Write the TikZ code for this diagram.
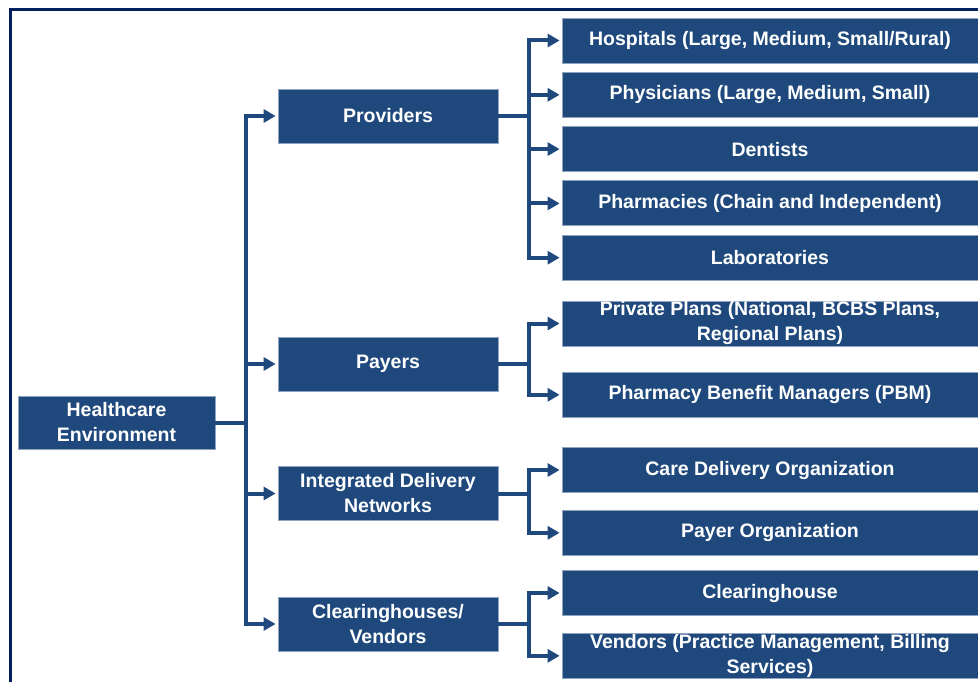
\documentclass[tikz,border=0pt]{standalone}
\usepackage{fontspec}
\setmainfont{Liberation Sans}
\usetikzlibrary{arrows.meta,positioning}
\definecolor{boxblue}{RGB}{31,73,125}
\definecolor{framenavy}{RGB}{0,32,96}

\begin{document}
\begin{tikzpicture}[
    x=1pt, y=-1pt,
    font=\bfseries\fontsize{19.5}{25}\selectfont,
    node distance=8.5pt,
    box/.style={
        fill=boxblue,
        draw=boxblue!50!white,
        line width=0.8pt,
        text=white,
        align=center,
        inner sep=0pt
    },
    rootbox/.style={box, minimum width=197pt, minimum height=53pt},
    groupbox/.style={box, minimum width=220pt, minimum height=54pt},
    leafbox/.style={box, minimum width=416pt, minimum height=45pt},
    link/.style={draw=boxblue, line width=4pt},
    arr/.style={link, -{Triangle[length=12pt,width=13pt]}, shorten >=2pt}
]
    \useasboundingbox (0,0) rectangle (978,682);
    %% Rahmen
    \draw[framenavy, line width=3.5pt] (10.5,682) -- (10.5,9.5) -- (978,9.5);

    %% Wurzel
    \node[rootbox] (root) at (116.5,422.5) {Healthcare\\Environment};

    %% Gruppen
    \node[groupbox] (prov) at (388,116) {Providers};
    \node[groupbox] (pay) at (388,364) {Payers};
    \node[groupbox] (idn) at (388,493.5) {Integrated Delivery\\Networks};
    \node[groupbox] (clh) at (388,624) {Clearinghouses/\\Vendors};

    %% Providers
    \node[leafbox] (hosp) at (770,40.5) {Hospitals (Large, Medium, Small/Rural)};
    \node[leafbox, below=of hosp] (phys) {Physicians (Large, Medium, Small)};
    \node[leafbox, below=of phys] (dent) {Dentists};
    \node[leafbox, below=of dent] (pharm) {Pharmacies (Chain and Independent)};
    \node[leafbox, below=of pharm] (lab) {Laboratories};
    %% Payers
    \node[leafbox] (priv) at (770,323.5) {Private Plans (National, BCBS Plans,\\Regional Plans)};
    \node[leafbox, below=25.5pt of priv] (pbm) {Pharmacy Benefit Managers (PBM)};
    %% IDN
    \node[leafbox] (care) at (770,470) {Care Delivery Organization};
    \node[leafbox, below=17pt of care] (payorg) {Payer Organization};
    %% Clearinghouses/Vendors
    \node[leafbox] (chouse) at (770,593) {Clearinghouse};
    \node[leafbox, below=17pt of chouse] (vend) {Vendors (Practice Management, Billing\\Services)};

    %% Verzweigungen
    \coordinate[right=31pt of root.east] (rootfork);
    \coordinate[right=31pt of prov.east] (provfork);
    \coordinate[right=31pt of pay.east] (payfork);
    \coordinate[right=31pt of idn.east] (idnfork);
    \coordinate[right=31pt of clh.east] (clhfork);

    %% Linien
    \draw[link] (root) -- (rootfork);
    \foreach \grp in {prov,pay,idn,clh}
        \draw[arr] (rootfork) |- (\grp);
    \draw[link] (prov) -- (provfork);
    \foreach \leaf in {hosp,phys,dent,pharm,lab}
        \draw[arr] (provfork) |- (\leaf);
    \draw[link] (pay) -- (payfork);
    \foreach \leaf in {priv,pbm}
        \draw[arr] (payfork) |- (\leaf);
    \draw[link] (idn) -- (idnfork);
    \foreach \leaf in {care,payorg}
        \draw[arr] (idnfork) |- (\leaf);
    \draw[link] (clh) -- (clhfork);
    \foreach \leaf in {chouse,vend}
        \draw[arr] (clhfork) |- (\leaf);
\end{tikzpicture}
\end{document}
